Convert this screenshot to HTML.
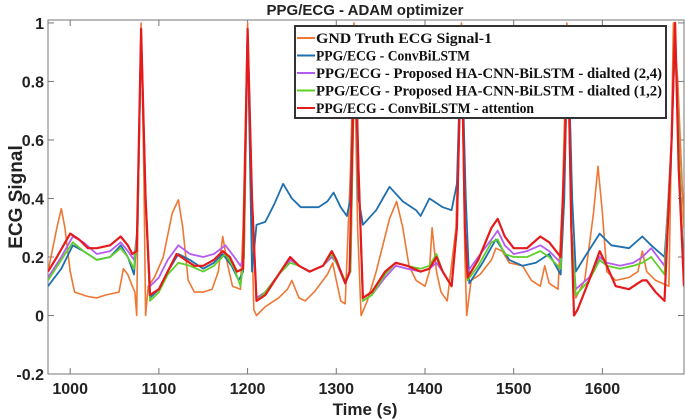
<!DOCTYPE html>
<html><head><meta charset="utf-8"><style>
body{margin:0;background:#fff;}
svg{display:block;font-family:"Liberation Sans",sans-serif;}
</style></head><body>
<svg id="chart" width="685" height="420" viewBox="0 0 685 420" xmlns="http://www.w3.org/2000/svg">
<text x="365" y="15" text-anchor="middle" font-size="15" font-weight="bold" fill="#222">PPG/ECG - ADAM optimizer</text>
<g id="axes"></g>
<g id="series" clip-path="url(#clip)"></g>
<defs><clipPath id="clip"><rect x="48" y="18" width="636" height="356"/></clipPath></defs>
<text transform="translate(22,197) rotate(-90)" text-anchor="middle" font-size="19" font-weight="bold" fill="#222">ECG Signal</text>
<text x="365" y="415" text-anchor="middle" font-size="17" font-weight="bold" fill="#222">Time (s)</text>
<g id="legend"></g>
</svg>
<script>
const xTicks=[1000,1100,1200,1300,1400,1500,1600];
const yTicks=[-0.2,0,0.2,0.4,0.6,0.8,1];
const seriesNames=["GND Truth ECG Signal-1","PPG/ECG - ConvBiLSTM","PPG/ECG - Proposed HA-CNN-BiLSTM - dialted (2,4)","PPG/ECG - Proposed HA-CNN-BiLSTM - dialted (1,2)","PPG/ECG - ConvBiLSTM - attention"];
const seriesColors=["#ee7733","#1f6fae","#b45cf0","#5fd02a","#e41a1c"];
const gndX=[975,985,990,994,1000,1005,1020,1030,1040,1055,1060,1065,1070,1073,1075,1077,1080,1083,1085,1088,1095,1105,1115,1122,1127,1133,1140,1150,1160,1167,1172,1177,1183,1192,1195,1200,1204,1207,1210,1220,1235,1245,1250,1258,1265,1275,1290,1296,1300,1305,1310,1316,1320,1324,1328,1335,1345,1360,1368,1375,1382,1390,1400,1405,1408,1413,1418,1425,1435,1441,1445,1447,1452,1462,1475,1480,1487,1495,1510,1520,1530,1535,1540,1550,1555,1560,1565,1570,1580,1590,1595,1600,1605,1615,1630,1640,1645,1650,1660,1675,1680,1685,1692];
const gndY=[0.15,0.30,0.365,0.30,0.15,0.08,0.065,0.06,0.07,0.08,0.16,0.14,0.10,0.08,0.0,0.5,1.0,0.5,0.0,0.10,0.13,0.20,0.35,0.395,0.30,0.12,0.08,0.08,0.09,0.15,0.27,0.18,0.10,0.09,0.30,1.0,0.4,0.02,0.0,0.03,0.06,0.09,0.12,0.06,0.05,0.08,0.14,0.18,0.12,0.05,0.04,0.5,1.0,0.3,0.0,0.05,0.15,0.33,0.39,0.30,0.17,0.12,0.10,0.15,0.30,0.15,0.08,0.05,0.3,1.0,0.2,0.0,0.12,0.14,0.19,0.23,0.22,0.18,0.17,0.12,0.10,0.17,0.11,0.09,0.4,1.0,0.3,0.06,0.12,0.35,0.51,0.35,0.15,0.12,0.13,0.15,0.22,0.15,0.12,0.10,1.0,0.8,0.3];
const blueX=[975,990,1003,1015,1030,1045,1057,1065,1072,1076,1080,1085,1090,1100,1110,1122,1135,1150,1162,1172,1182,1190,1195,1200,1205,1210,1220,1230,1240,1250,1260,1280,1290,1297,1305,1312,1316,1321,1325,1330,1345,1360,1375,1390,1395,1405,1410,1420,1430,1436,1441,1446,1450,1465,1480,1495,1510,1525,1540,1553,1557,1561,1566,1570,1580,1597,1610,1630,1645,1655,1670,1677,1682,1687,1692];
const blueY=[0.10,0.16,0.24,0.22,0.19,0.20,0.24,0.20,0.14,0.3,0.97,0.4,0.06,0.09,0.15,0.21,0.19,0.16,0.18,0.21,0.17,0.12,0.15,0.97,0.15,0.31,0.32,0.38,0.45,0.40,0.37,0.37,0.39,0.42,0.37,0.34,0.4,0.97,0.4,0.31,0.36,0.44,0.39,0.36,0.34,0.40,0.39,0.37,0.36,0.45,0.97,0.4,0.11,0.18,0.26,0.19,0.17,0.18,0.21,0.14,0.4,0.97,0.4,0.15,0.20,0.28,0.24,0.23,0.27,0.24,0.20,0.5,0.97,0.5,0.1];
const purpleX=[975,990,1003,1015,1030,1045,1057,1065,1072,1076,1080,1085,1090,1100,1110,1122,1135,1150,1162,1175,1185,1192,1196,1200,1205,1210,1220,1235,1248,1258,1270,1285,1295,1300,1310,1316,1321,1325,1330,1340,1355,1367,1380,1395,1405,1413,1420,1430,1436,1441,1445,1448,1460,1475,1482,1490,1500,1515,1530,1540,1553,1558,1561,1565,1570,1585,1597,1605,1620,1635,1645,1655,1670,1678,1682,1687,1692];
const purpleY=[0.13,0.20,0.27,0.25,0.21,0.22,0.25,0.22,0.19,0.3,0.97,0.4,0.10,0.13,0.19,0.24,0.21,0.20,0.21,0.24,0.20,0.17,0.2,0.97,0.4,0.06,0.08,0.14,0.19,0.17,0.15,0.17,0.20,0.18,0.11,0.15,0.97,0.5,0.05,0.07,0.13,0.17,0.16,0.15,0.16,0.18,0.15,0.10,0.3,0.97,0.3,0.15,0.20,0.26,0.29,0.24,0.21,0.22,0.24,0.22,0.18,0.6,0.97,0.3,0.09,0.13,0.20,0.18,0.17,0.18,0.20,0.23,0.17,0.6,0.97,0.5,0.1];
const greenX=[975,990,1003,1015,1030,1045,1057,1065,1072,1076,1080,1085,1090,1100,1110,1122,1135,1150,1162,1175,1185,1192,1196,1200,1205,1210,1220,1235,1248,1258,1270,1285,1295,1300,1310,1316,1321,1325,1330,1340,1355,1367,1380,1395,1405,1413,1420,1430,1436,1441,1445,1448,1460,1475,1482,1490,1500,1515,1530,1540,1553,1558,1561,1565,1570,1585,1597,1605,1620,1635,1645,1655,1670,1678,1682,1687,1692];
const greenY=[0.12,0.19,0.25,0.22,0.19,0.20,0.23,0.20,0.16,0.3,0.97,0.4,0.05,0.08,0.14,0.18,0.17,0.15,0.17,0.21,0.16,0.10,0.2,0.97,0.4,0.05,0.08,0.14,0.18,0.17,0.15,0.17,0.21,0.18,0.12,0.15,0.97,0.5,0.05,0.07,0.14,0.18,0.17,0.16,0.17,0.21,0.15,0.10,0.3,0.97,0.3,0.12,0.17,0.25,0.26,0.21,0.20,0.20,0.22,0.20,0.16,0.6,0.97,0.3,0.07,0.12,0.19,0.17,0.16,0.17,0.18,0.20,0.14,0.6,0.97,0.5,0.1];
const redX=[975,985,1000,1010,1020,1030,1045,1057,1065,1070,1075,1080,1085,1090,1100,1110,1120,1130,1140,1150,1162,1172,1180,1188,1195,1200,1205,1210,1220,1235,1248,1258,1270,1285,1295,1300,1310,1315,1321,1325,1330,1340,1355,1367,1380,1395,1405,1413,1420,1430,1436,1441,1445,1448,1460,1475,1482,1490,1500,1515,1530,1540,1553,1558,1561,1565,1568,1572,1585,1597,1605,1615,1630,1645,1650,1660,1670,1678,1682,1686,1692];
const redY=[0.15,0.20,0.28,0.26,0.23,0.23,0.24,0.27,0.24,0.21,0.22,0.98,0.4,0.07,0.09,0.15,0.21,0.19,0.17,0.17,0.19,0.22,0.20,0.15,0.16,0.98,0.4,0.05,0.07,0.14,0.20,0.17,0.15,0.17,0.22,0.19,0.11,0.15,0.98,0.5,0.06,0.08,0.15,0.18,0.17,0.15,0.16,0.20,0.15,0.10,0.3,0.98,0.3,0.13,0.19,0.30,0.33,0.27,0.23,0.23,0.27,0.25,0.20,0.6,0.98,0.3,0.0,0.02,0.12,0.22,0.17,0.10,0.09,0.12,0.12,0.08,0.05,0.6,1.0,0.5,0.1];

const X0=48,X1=684,Y0=20,Y1=374,xMin=975,xMax=1692,yMin=-0.2,yMax=1.01;
function sx(v){return X0+(v-xMin)/(xMax-xMin)*(X1-X0);}
function sy(v){return Y1-(v-yMin)/(yMax-yMin)*(Y1-Y0);}
const NS="http://www.w3.org/2000/svg";
function mk(tag,attrs,parent){const e=document.createElementNS(NS,tag);for(const k in attrs)e.setAttribute(k,attrs[k]);parent.appendChild(e);return e;}
const axes=document.getElementById('axes');
const frame=mk('rect',{x:X0,y:Y0,width:X1-X0,height:Y1-Y0,fill:'none',stroke:'#777','stroke-width':1},axes);


xTicks.forEach(t=>{
 const x=sx(t);
 mk('line',{x1:x,x2:x,y1:Y1,y2:Y1-6,stroke:'#777'},axes);
 mk('line',{x1:x,x2:x,y1:Y0,y2:Y0+6,stroke:'#777'},axes);
 const tx=mk('text',{x:x,y:Y1+20,'text-anchor':'middle','font-size':16,'font-weight':'bold',fill:'#222'},axes);
 tx.textContent=t;
 
 
});
yTicks.forEach(t=>{
 const y=sy(t);
 mk('line',{x1:X0,x2:X0+6,y1:y,y2:y,stroke:'#777'},axes);
 mk('line',{x1:X1,x2:X1-6,y1:y,y2:y,stroke:'#777'},axes);
 const tx=mk('text',{x:X0-4,y:y+6,'text-anchor':'end','font-size':16,'font-weight':'bold',fill:'#222'},axes);
 tx.textContent=String(t);
 
 
});
const sg=document.getElementById('series');
const allX=[gndX,blueX,purpleX,greenX,redX],allY=[gndY,blueY,purpleY,greenY,redY];
const widths=[1.6,1.8,1.8,1.8,2.2];
const keys=['gnd-truth-line','convbilstm-line','ha-cnn-bilstm-24-line','ha-cnn-bilstm-12-line','convbilstm-attention-line'];
for(let i=0;i<5;i++){
 const d=allX[i].map((v,j)=>(j?'L':'M')+sx(v).toFixed(1)+','+sy(allY[i][j]).toFixed(1)).join('');
 const p=mk('path',{d:d,fill:'none',stroke:seriesColors[i],'stroke-width':widths[i],'stroke-linejoin':'round'},sg);
 
 
}
const lg=document.getElementById('legend');
mk('rect',{x:295,y:26,width:371,height:92,fill:'#fff',stroke:'#333','stroke-width':2},lg);
const lens=[176,154,346,346,218];
for(let i=0;i<5;i++){
 const y=38+i*17.5;
 mk('line',{x1:297,x2:315,y1:y,y2:y,stroke:seriesColors[i],'stroke-width':2},lg);
 const t=mk('text',{x:316,y:y+5,'font-family':'"Liberation Serif",serif','font-size':15,'font-weight':'bold',fill:'#111',textLength:lens[i],lengthAdjust:'spacingAndGlyphs'},lg);
 t.textContent=seriesNames[i];
 
 
}
</script>
</body></html>
